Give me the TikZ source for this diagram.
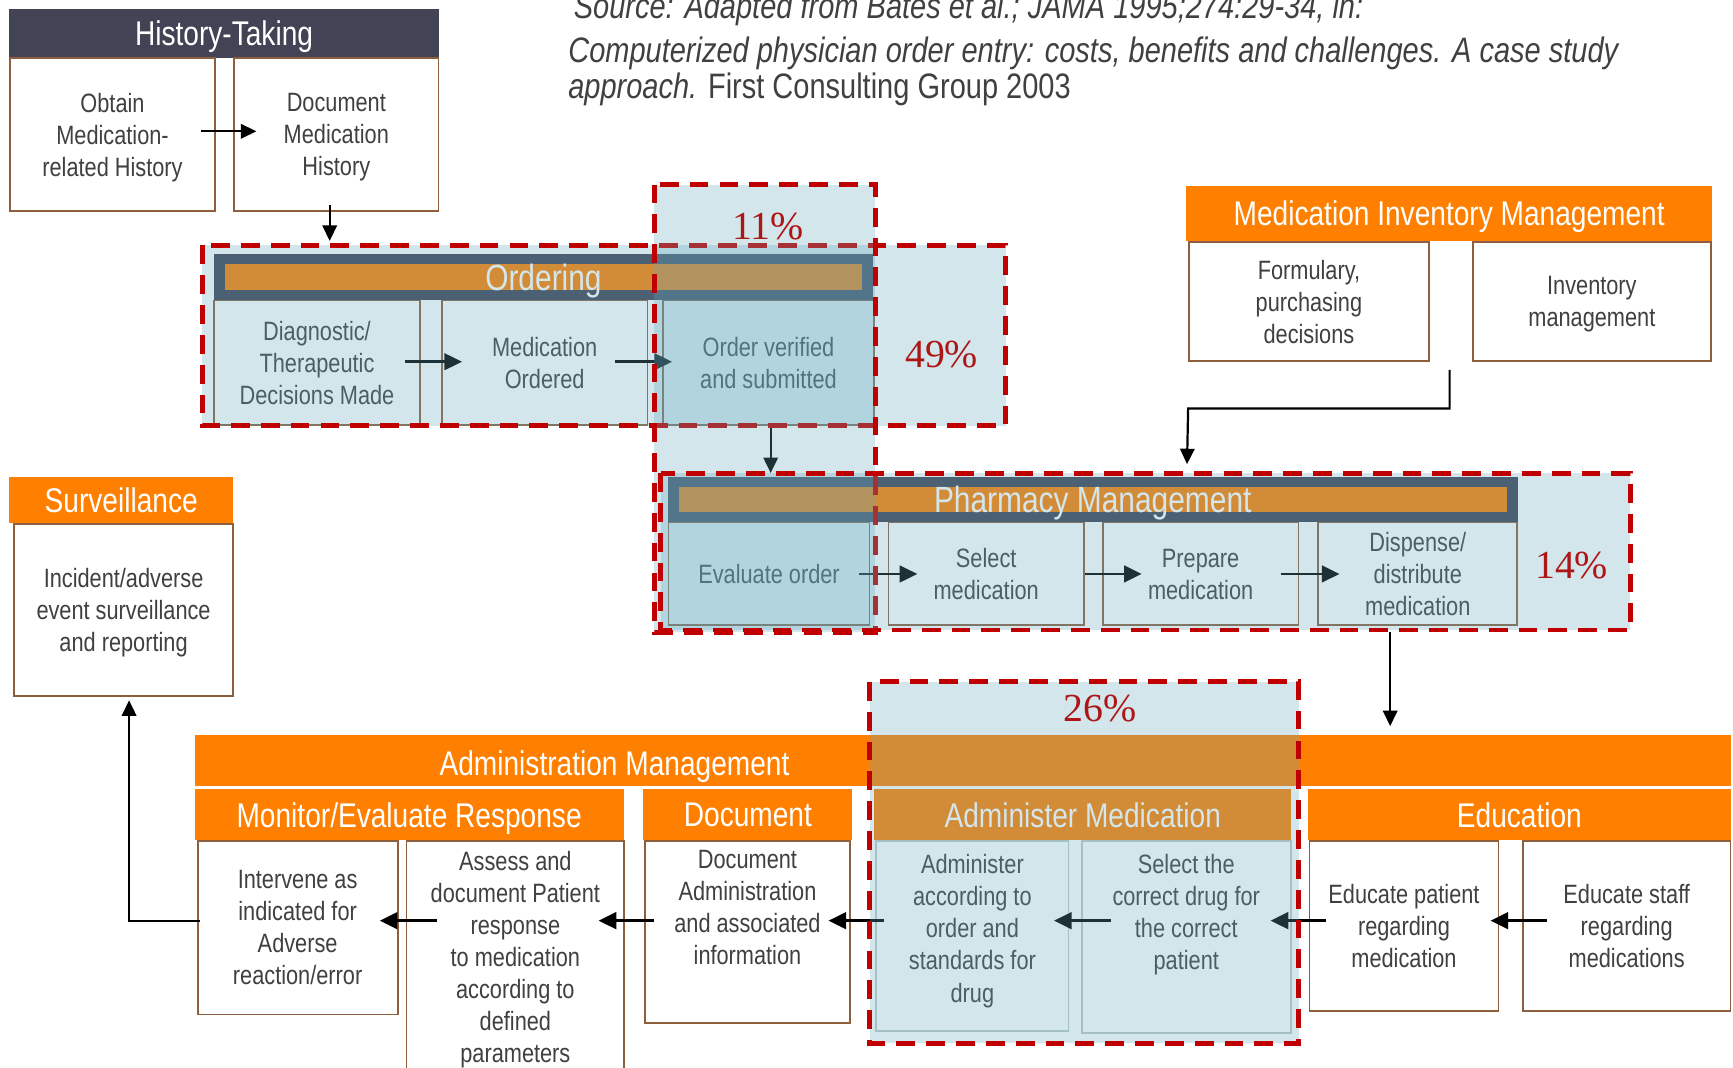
\documentclass[tikz,border=0pt]{standalone}
\usepackage{fontspec}
\setmainfont{Liberation Sans}[FakeStretch=0.82]
\newfontfamily\pctfont{Liberation Serif}
\usetikzlibrary{arrows.meta}

\definecolor{slate}{HTML}{434356}
\definecolor{mporange}{HTML}{FF8000}
\definecolor{boxline}{HTML}{8E5F3F}
\definecolor{paleline}{HTML}{C0C8CC}
\definecolor{bodytext}{HTML}{404040}
\definecolor{zonefill}{HTML}{64A9BE}
\definecolor{zoneline}{HTML}{C00000}
\definecolor{pcttext}{HTML}{AE1515}

\tikzset{
  hdr/.style={rectangle, inner sep=0pt, anchor=north west, text=white, text depth=0pt, font=\fontsize{31}{34}\selectfont},
  hdrtxt/.style={inner sep=0pt, text=white, text depth=0pt, font=\fontsize{31}{34}\selectfont},
  box/.style={rectangle, draw=boxline, line width=1.6pt, fill=white, inner sep=0pt, anchor=north west, align=center, text=bodytext, text depth=0pt, font=\fontsize{24}{29}\selectfont},
  palebox/.style={box, draw=paleline},
  txt/.style={align=center, text=bodytext, inner sep=0pt, anchor=north, font=\fontsize{24}{29}\selectfont},
  bar/.style={rectangle, fill=mporange, inner sep=0pt},
  bartxt/.style={text=white, inner sep=0pt, text depth=0pt, font=\fontsize{33}{36}\selectfont},
  arr/.style={line width=2pt, -{Triangle[length=14pt,width=13pt]}},
  bigarr/.style={line width=2.6pt, -{Triangle[length=16pt,width=15pt]}},
  zone/.style={fill=zonefill, fill opacity=0.29, draw=zoneline, line width=4.5pt, dash pattern=on 17pt off 10pt},
  pct/.style={text=pcttext, inner sep=0pt, font=\pctfont\fontsize{36}{38}\selectfont},
  cite/.style={anchor=base west, text=bodytext, inner sep=0pt, font=\fontsize{32}{32}\selectfont\itshape},
}

\begin{document}
\begin{tikzpicture}[x=1pt,y=-1pt]
  \useasboundingbox (0,0) rectangle (1568,966);

  % reference line
  \node[cite] (src) at (519,17) {Source: Adapted from Bates et al.; JAMA 1995;274:29-34, in:};
  \node[cite] (cpoe) at (514,57) {Computerized physician order entry: costs, benefits and challenges. A case study};
  \node[cite] (cpoe2) at (514,89) {approach. {\upshape First Consulting Group 2003}};

  % history-taking
  \node[hdr, fill=slate, minimum width=389, minimum height=44] (histhdr) at (8,8) {History-Taking};
  \node[box, minimum width=186, minimum height=138] (obtain) at (8,52) {Obtain\\Medication-\\related History};
  \node[box, minimum width=185, minimum height=138] (dochist) at (211,52) {Document\\Medication\\History};

  % ordering
  \node[hdr, fill=slate, minimum width=597, minimum height=41] (ordhdr) at (193,230) {};
  \node[bar, minimum width=577, minimum height=24] (ordbar) at (ordhdr.center) {};
  \node[bartxt] (ordtxt) at (ordhdr.center) {Ordering};
  \node[box, minimum width=186, minimum height=113] (diag) at (193,271) {Diagnostic/\\Therapeutic\\Decisions Made};
  \node[box, minimum width=186, minimum height=113] (medord) at (399,271) {Medication\\Ordered};
  \node[box, minimum width=191, minimum height=113] (ordver) at (599,271) {Order verified\\and submitted};

  % pharmacy management
  \node[hdr, fill=slate, minimum width=769, minimum height=41] (phhdr) at (604,431) {};
  \node[bar, minimum width=749, minimum height=23] (phbar) at (phhdr.center) {};
  \node[bartxt] (phtxt) at (phhdr.center) {Pharmacy Management};
  \node[box, minimum width=182, minimum height=93] (evalord) at (604,472) {Evaluate order};
  \node[box, minimum width=177, minimum height=93] (selmed) at (803,472) {Select\\medication};
  \node[box, minimum width=177, minimum height=93] (prepmed) at (997,472) {Prepare\\medication};
  \node[box, minimum width=180, minimum height=93] (dispmed) at (1192,472) {Dispense/\\distribute\\medication};

  % inventory
  \node[hdr, fill=mporange, minimum width=476, minimum height=50] (invhdr) at (1073,168) {Medication Inventory Management};
  \node[box, minimum width=217, minimum height=108] (formul) at (1075,218) {Formulary,\\purchasing\\decisions};
  \node[box, minimum width=215, minimum height=108] (invmgmt) at (1332,218) {Inventory\\management};

  % surveillance
  \node[hdr, fill=mporange, minimum width=203, minimum height=42] (survhdr) at (8,431) {Surveillance};
  \node[box, minimum width=198, minimum height=156] (surv) at (12,473) {Incident/adverse\\event surveillance\\and reporting};

  % administration management
  \node[hdr, fill=mporange, minimum width=1390, minimum height=46] (admband) at (176,665) {};
  \node[hdrtxt] (admtxt) at (556,690) {Administration Management};
  \node[hdr, fill=mporange, minimum width=388, minimum height=46] (monhdr) at (176,714) {Monitor/Evaluate Response};
  \node[hdr, fill=mporange, minimum width=189, minimum height=46] (dochdr) at (582,714) {Document};
  \node[hdr, fill=mporange, minimum width=377, minimum height=46] (admhdr) at (791,714) {Administer Medication};
  \node[hdr, fill=mporange, minimum width=383, minimum height=46] (eduhdr) at (1183,714) {Education};

  \node[box, minimum width=181, minimum height=157] (interv) at (178,760) {Intervene as\\indicated for\\Adverse\\reaction/error};
  \node[box, minimum width=197, minimum height=215] (assess) at (367,760) {};
  \node[txt] (assesst) at ([yshift=-10]assess.north) {Assess and\\document Patient\\response\\to medication\\according to\\defined\\parameters};
  \node[box, minimum width=185, minimum height=165] (docadm) at (583,760) {};
  \node[txt] (docadmt) at ([yshift=-9]docadm.north) {Document\\Administration\\and associated\\information};
  \node[palebox, minimum width=174, minimum height=172] (admac) at (792,760) {};
  \node[txt] (admact) at ([yshift=-13]admac.north) {Administer\\according to\\order and\\standards for\\drug};
  \node[palebox, minimum width=189, minimum height=174] (selcd) at (978,760) {};
  \node[txt] (selcdt) at ([yshift=-13]selcd.north) {Select the\\correct drug for\\the correct\\patient};
  \node[box, minimum width=171, minimum height=154] (edpat) at (1184,760) {Educate patient\\regarding\\medication};
  \node[box, minimum width=188, minimum height=154] (edstf) at (1377,760) {Educate staff\\regarding\\medications};
  \coordinate (flow) at (0,833);

  % flow
  \draw[arr] ([xshift=-14,yshift=3]obtain.east) -- ([xshift=21,yshift=3]dochist.west);
  \draw[arr] ([xshift=-6,yshift=6]dochist.south) -- ([xshift=-6,yshift=12]dochist.south |- ordhdr.north);
  \draw[bigarr] ([xshift=-14,yshift=1]diag.east) -- ([xshift=19,yshift=1]medord.west);
  \draw[bigarr] ([xshift=-30,yshift=1]medord.east) -- ([xshift=9,yshift=1]ordver.west);
  \draw[arr] ([xshift=2]ordver.south) -- ([xshift=2,yshift=3]ordver.south |- phhdr.north);
  \draw[arr] ([xshift=18,yshift=-7]formul.south east) |- ([yshift=-42]formul.south west)
    -- ([xshift=-1,yshift=11]formul.south west |- phhdr.north);
  \draw[bigarr] ([xshift=-10]evalord.east) -- ([xshift=27]selmed.west);
  \draw[bigarr] (selmed.east) -- ([xshift=36]prepmed.west);
  \draw[bigarr] ([xshift=-17]prepmed.east) -- ([xshift=20]dispmed.west);
  \draw[arr] ([xshift=-25,yshift=-5]dispmed.south) -- ([xshift=-25,yshift=8]dispmed.south |- admband.north);
  \draw[bigarr] ([xshift=23]edstf.west |- flow) -- ([xshift=-8]edpat.east |- flow);
  \draw[bigarr] ([xshift=16]edpat.west |- flow) -- ([xshift=-19]selcd.east |- flow);
  \draw[bigarr] ([xshift=27]selcd.west |- flow) -- ([xshift=-14]admac.east |- flow);
  \draw[bigarr] ([xshift=8]admac.west |- flow) -- ([xshift=-20]docadm.east |- flow);
  \draw[bigarr] ([xshift=9]docadm.west |- flow) -- ([xshift=-24]assess.east |- flow);
  \draw[bigarr] ([xshift=28]assess.west |- flow) -- ([xshift=-17]interv.east |- flow);
  \draw[arr] ([xshift=3]interv.west |- flow) -| ([xshift=5,yshift=-3]surv.south);

  % error zones
  \draw[zone] (183,222) rectangle (910,385);
  \draw[zone] (592,167) rectangle (792,572);
  \draw[zone] (598,428) rectangle (1475,570);
  \draw[zone] (787,617) rectangle (1175,944);

  \node[pct] (p11) at (695,205) {11\%};
  \node[pct] (p49) at (852,321) {49\%};
  \node[pct] (p14) at (1422,512) {14\%};
  \node[pct] (p26) at (995,641) {26\%};
\end{tikzpicture}
\end{document}
